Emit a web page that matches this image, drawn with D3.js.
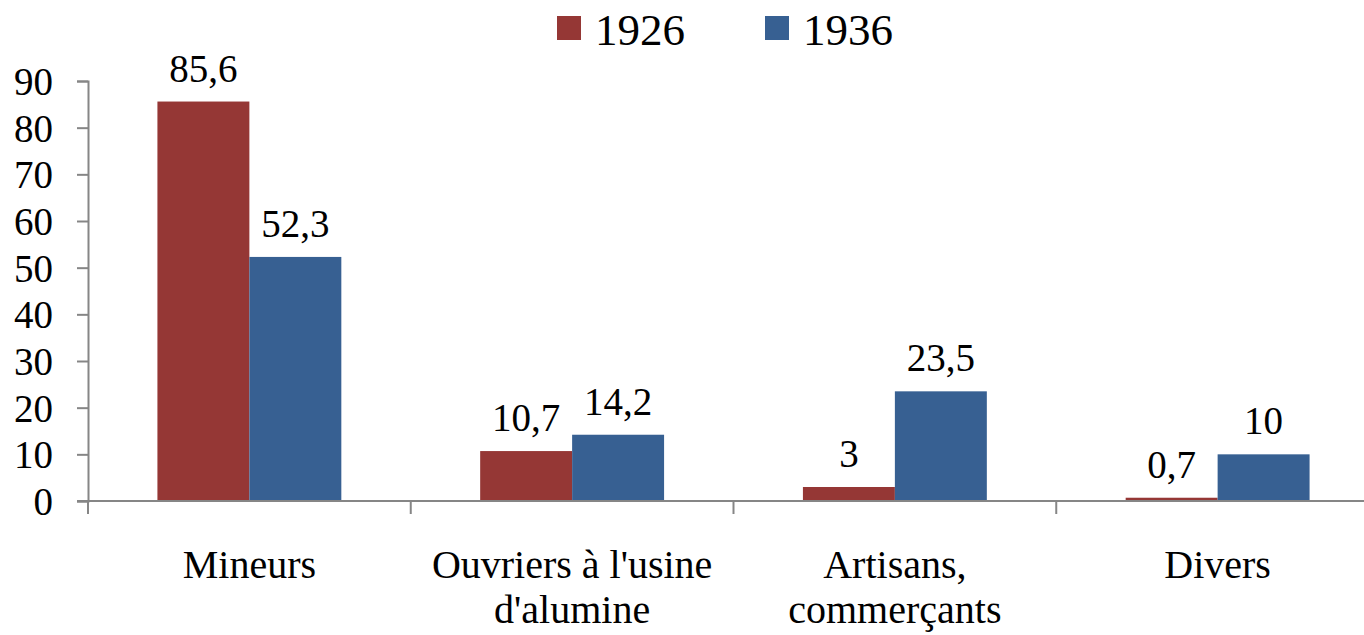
<!DOCTYPE html>
<html>
<head>
<meta charset="utf-8" />
<script src="https://d3js.org/d3.v7.min.js"></script>
<style>
  body { margin: 0; background: #fff; }
</style>
</head>
<body>
<div id="chart"></div>
<script>
// donnees
const categories = [["Mineurs"], ["Ouvriers à l'usine", "d'alumine"], ["Artisans,", "commerçants"], ["Divers"]];
const series = ["1926", "1936"];
const couleurs = ["#953735", "#376092"];
const valeurs1926 = [85.6, 10.7, 3, 0.7];
const valeurs1936 = [52.3, 14.2, 23.5, 10];
const ticksY = [0, 10, 20, 30, 40, 50, 60, 70, 80, 90];

const police = "'Liberation Serif', 'DejaVu Serif', 'Times New Roman', serif";
const largeur = 1364, hauteur = 635;
const gauche = 88, droite = 1379, haut = 81, bas = 501;

const svg = d3.select("#chart").append("svg")
  .attr("width", largeur).attr("height", hauteur)
  .style("font-family", police);

const y = d3.scaleLinear().domain([0, 90]).range([bas, haut]);
const x0 = d3.scaleBand().domain(d3.range(categories.length)).range([gauche, droite]).padding(0);
const x1 = d3.scaleBand().domain(series).range([0, x0.bandwidth()]).paddingInner(0).paddingOuter(0.755);

const donnees = [valeurs1926, valeurs1936];

// barres
categories.forEach((c, i) => {
  series.forEach((s, j) => {
    const v = donnees[j][i];
    svg.append("rect")
      .attr("x", x0(i) + x1(s))
      .attr("y", y(v))
      .attr("width", x1.bandwidth())
      .attr("height", bas - y(v))
      .attr("fill", couleurs[j]);
    svg.append("text")
      .attr("x", x0(i) + x1(s) + x1.bandwidth() / 2)
      .attr("y", y(v) - 20)
      .attr("text-anchor", "middle")
      .style("font-family", police)
      .style("font-size", "39px")
      .text(String(v).replace(".", ","));
  });
});

// axe Y
const axeY = svg.append("g").attr("transform", "translate(" + gauche + ",0)")
  .call(d3.axisLeft(y).tickValues(ticksY).tickSize(11).tickPadding(24));
axeY.attr("font-family", null).attr("font-size", null);
axeY.select(".domain").attr("stroke", "#868686").attr("stroke-width", 2);
axeY.selectAll(".tick line").attr("stroke", "#868686").attr("stroke-width", 2);
axeY.selectAll(".tick text").style("font-family", police).style("font-size", "39px").attr("dy", "0.35em");

// axe X
svg.append("line").attr("x1", gauche - 11).attr("x2", droite).attr("y1", bas).attr("y2", bas)
  .attr("stroke", "#868686").attr("stroke-width", 2);
d3.range(categories.length + 1).forEach(i => {
  const xt = gauche + i * x0.step();
  svg.append("line").attr("x1", xt).attr("x2", xt).attr("y1", bas).attr("y2", bas + 13)
    .attr("stroke", "#868686").attr("stroke-width", 2);
});
categories.forEach((c, i) => {
  c.forEach((ligne, k) => {
    svg.append("text")
      .attr("x", x0(i) + x0.bandwidth() / 2)
      .attr("y", 578 + k * 45)
      .attr("text-anchor", "middle")
      .style("font-family", police)
      .style("font-size", "40px")
      .text(ligne);
  });
});

// legende
const posLegende = [557, 765];
series.forEach((s, j) => {
  svg.append("rect").attr("x", posLegende[j]).attr("y", 16).attr("width", 24).attr("height", 24)
    .attr("fill", couleurs[j]);
  svg.append("text").attr("x", posLegende[j] + 38).attr("y", 45)
    .style("font-family", police)
    .style("font-size", "45px").text(s);
});
</script>
</body>
</html>
